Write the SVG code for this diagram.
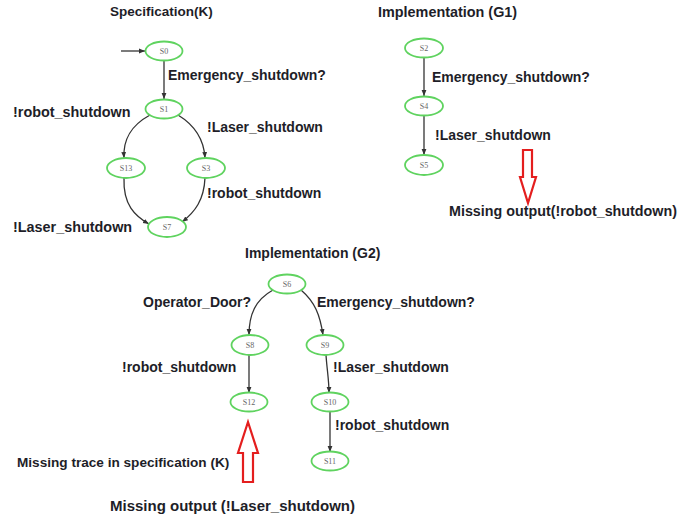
<svg xmlns="http://www.w3.org/2000/svg" width="699" height="520" viewBox="0 0 699 520">
<defs>
<style>
.node ellipse{fill:#fff;stroke:#5fd35f;stroke-width:1.8}
.node text{font-family:"Liberation Serif",serif;font-size:8px;fill:#666;text-anchor:middle}
.lbl{font-family:"Liberation Sans",Arial,sans-serif;font-weight:bold;font-size:14px;fill:#1e1e28}
.edge{fill:none;stroke:#333;stroke-width:1.3;marker-end:url(#ah)}
.red{fill:#fff;stroke:#e41e1e;stroke-width:2.2;stroke-linejoin:miter}
</style>
<marker id="ah" viewBox="0 0 10 10" refX="10" refY="5" markerWidth="6" markerHeight="6" orient="auto" markerUnits="userSpaceOnUse">
<path d="M0,1 L10,5 L0,9 z" fill="#333"/>
</marker>
</defs>
<rect width="699" height="520" fill="#fff"/>

<g id="connectors">
<path class="edge" d="M121,51 L145,51"/>
<path class="edge" d="M164,61 L164,99"/>
<path class="edge" d="M150,115 C130,126 123,140 124,158"/>
<path class="edge" d="M178,115 C196,126 204,140 205,158"/>
<path class="edge" d="M124,178 C123,205 135,216 149,224"/>
<path class="edge" d="M205,178 C204,200 195,212 182,222"/>
<path class="edge" d="M424,58 L424,96"/>
<path class="edge" d="M424,116 L424,155"/>
<path class="edge" d="M273,290 C255,300 249,315 249,335"/>
<path class="edge" d="M301,290 C315,302 320,315 323,335"/>
<path class="edge" d="M249,355 L249,393"/>
<path class="edge" d="M326,355 C327,370 329,380 329,393"/>
<path class="edge" d="M330,412 L330,452"/>
</g>

<g id="S0" class="node"><ellipse cx="164" cy="51" rx="18.5" ry="9.5"/><text x="164" y="54">S0</text></g>
<g id="S1" class="node"><ellipse cx="164" cy="109" rx="18.5" ry="9.5"/><text x="164" y="112">S1</text></g>
<g id="S13" class="node"><ellipse cx="126" cy="168" rx="19" ry="10"/><text x="126" y="171">S13</text></g>
<g id="S3" class="node"><ellipse cx="206" cy="168" rx="19" ry="10"/><text x="206" y="171">S3</text></g>
<g id="S7" class="node"><ellipse cx="167" cy="227" rx="19" ry="10"/><text x="167" y="230">S7</text></g>

<g id="S2" class="node"><ellipse cx="424" cy="48" rx="19" ry="9.5"/><text x="424" y="51">S2</text></g>
<g id="S4" class="node"><ellipse cx="424" cy="106" rx="19" ry="9.5"/><text x="424" y="109">S4</text></g>
<g id="S5" class="node"><ellipse cx="424" cy="165" rx="19" ry="10"/><text x="424" y="168">S5</text></g>

<g id="S6" class="node"><ellipse cx="287" cy="284" rx="18.5" ry="9.5"/><text x="287" y="287">S6</text></g>
<g id="S8" class="node"><ellipse cx="250" cy="345" rx="18.5" ry="10"/><text x="250" y="348">S8</text></g>
<g id="S9" class="node"><ellipse cx="325" cy="345" rx="18.5" ry="10"/><text x="325" y="348">S9</text></g>
<g id="S12" class="node"><ellipse cx="249" cy="402" rx="18.5" ry="9.5"/><text x="249" y="405">S12</text></g>
<g id="S10" class="node"><ellipse cx="330" cy="402" rx="18.5" ry="9.5"/><text x="330" y="405">S10</text></g>
<g id="S11" class="node"><ellipse cx="330" cy="461" rx="18.5" ry="9.5"/><text x="330" y="464">S11</text></g>

<g id="labels">
<text class="lbl" x="110" y="16" style="font-size:13.5px">Specification(K)</text>
<text class="lbl" x="168" y="80">Emergency_shutdown?</text>
<text class="lbl" x="13" y="117" style="font-size:14.4px">!robot_shutdown</text>
<text class="lbl" x="207" y="132">!Laser_shutdown</text>
<text class="lbl" x="207" y="198">!robot_shutdown</text>
<text class="lbl" x="13" y="232" style="font-size:14.4px">!Laser_shutdown</text>

<text class="lbl" x="378" y="17" style="font-size:14.4px">Implementation (G1)</text>
<text class="lbl" x="432" y="82">Emergency_shutdown?</text>
<text class="lbl" x="435" y="140">!Laser_shutdown</text>
<text class="lbl" x="449" y="216" style="font-size:14.3px">Missing output(!robot_shutdown)</text>

<text class="lbl" x="245" y="258">Implementation (G2)</text>
<text class="lbl" x="143" y="307">Operator_Door?</text>
<text class="lbl" x="317" y="307">Emergency_shutdown?</text>
<text class="lbl" x="122" y="372">!robot_shutdown</text>
<text class="lbl" x="333" y="372">!Laser_shutdown</text>
<text class="lbl" x="335" y="430">!robot_shutdown</text>
<text class="lbl" x="17" y="467" style="font-size:13.6px">Missing trace in specification (K)</text>
<text class="lbl" x="110" y="511" style="font-size:15px">Missing output (!Laser_shutdown)</text>
</g>

<g id="arrow-down">
<path class="red" d="M523,150 L532,150 L532,177 L536,177 L528,203 L520,177 L523,177 Z"/>
</g>
<g id="arrow-up">
<path class="red" d="M248,422 L258,453 L253,453 L253,482 L243,482 L243,453 L238,453 Z"/>
</g>
</svg>
